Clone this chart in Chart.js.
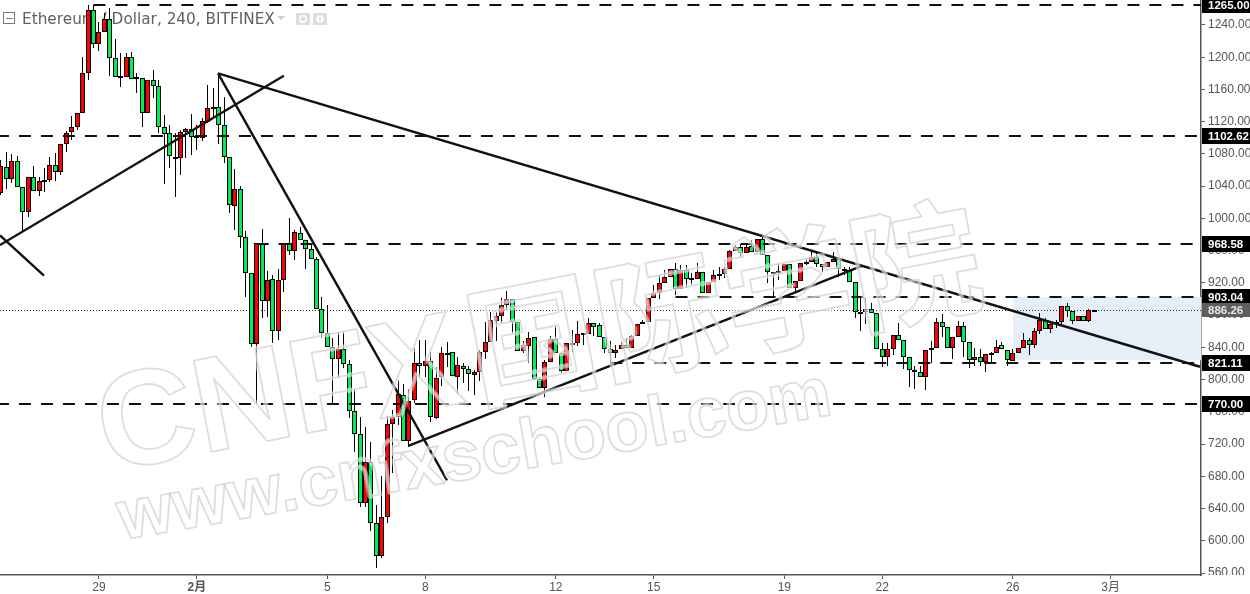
<!DOCTYPE html>
<html>
<head>
<meta charset="utf-8">
<style>html,body{margin:0;padding:0;background:#fff}canvas{display:block}</style>
<script src="https://cdn.jsdelivr.net/npm/chart.js@4/dist/chart.umd.min.js"></script>
</head>
<body>
<canvas id="c" width="1250" height="594"></canvas>
<script>
const opens = [1032,1064,1049,1071,1039,1008,1051,1034,1046,1048,
1066,1058,1092,1107,1113,1131,1180,1259,1216,1231,
1247,1199,1175,1175,1200,1173,1174,1131,1172,1164,
1113,1106,1076,1075,1107,1111,1101,1100,1120,1136,
1138,1116,1076,1015,1036,977,932,844,970,898,
925,860,924,970,960,982,973,962,950,888,
858,840,826,838,819,761,733,647,698,622,
581,630,745,754,781,724,775,821,817,823,
752,803,832,834,803,817,813,806,809,834,
847,873,879,893,900,871,836,842,853,801,
790,822,850,833,811,845,845,857,857,870,
868,853,838,833,838,843,839,854,869,871,
901,907,920,927,937,912,936,926,925,933,
907,921,930,931,937,960,965,957,966,958,
974,955,933,932,935,943,914,922,945,946,
952,943,940,946,950,937,936,921,884,884,
888,883,838,828,838,855,849,828,812,809,
803,837,839,871,865,839,853,866,847,824,
828,822,832,833,843,837,823,833,839,849,
843,860,874,863,869,871,891,885,873,879,
873,886];
const highs = [1072,1082,1080,1077,1039,1051,1065,1051,1063,1076,
1081,1092,1108,1127,1131,1200,1265,1265,1244,1255,
1261,1223,1205,1205,1206,1180,1174,1172,1184,1172,
1128,1116,1106,1110,1112,1130,1116,1125,1166,1162,
1180,1151,1076,1061,1040,984,932,970,987,935,
930,937,970,1001,986,989,973,970,952,902,
893,852,859,859,824,788,754,741,723,644,
680,755,762,800,795,788,839,849,849,834,
816,840,847,834,828,821,817,812,837,871,
884,884,901,910,900,871,848,859,853,803,
824,854,866,833,845,862,873,858,876,870,
870,853,848,843,847,852,855,869,874,901,
917,930,936,937,945,942,942,932,945,933,
921,936,940,940,961,967,968,970,973,974,
978,955,933,945,943,943,922,945,950,961,
958,943,946,958,952,940,940,921,902,901,
895,883,845,845,855,870,849,828,817,817,
837,848,876,881,865,853,873,871,847,839,
838,832,834,849,847,837,838,839,858,852,
864,883,876,873,874,891,895,885,879,879,
888,887];
const lows = [1029,1036,1044,1039,983,1002,1034,1028,1033,1045,
1046,1054,1082,1097,1110,1131,1172,1211,1208,1231,
1177,1175,1163,1175,1173,1156,1113,1131,1149,1106,
1043,1063,1027,1054,1075,1079,1085,1096,1118,1125,
1092,1069,1007,986,963,902,840,770,876,878,
845,849,909,955,948,973,937,950,888,852,
840,771,802,814,752,710,642,642,612,566,
579,622,684,744,724,716,771,803,803,747,
751,792,816,804,782,796,786,781,798,826,
847,848,870,886,858,836,833,821,800,790,
778,822,833,808,811,834,842,843,857,854,
853,833,821,827,838,839,839,854,869,871,
901,900,920,927,905,912,914,917,925,907,
907,921,924,926,937,960,952,957,958,958,
955,920,904,924,935,914,907,922,942,946,
940,933,940,946,927,930,921,876,860,869,
883,838,816,817,831,849,813,791,788,803,
787,821,839,853,839,826,853,828,814,817,
817,809,822,833,838,817,823,833,839,831,
839,857,863,858,864,869,878,869,873,873,
871,885];
const closes = [1065,1049,1071,1039,1008,1051,1034,1046,1048,1066,
1058,1092,1106,1113,1131,1180,1259,1216,1231,1247,
1199,1175,1177,1200,1173,1175,1131,1172,1164,1113,
1105,1077,1074,1107,1111,1101,1102,1121,1137,1138,
1116,1076,1017,1036,977,932,844,970,898,924,
860,924,970,960,983,973,962,950,888,858,
840,826,838,819,761,733,647,698,622,581,
630,745,754,782,724,773,821,817,823,754,
802,833,833,804,818,813,807,809,834,847,
874,879,893,900,871,836,843,852,801,790,
822,850,833,811,845,846,857,858,870,865,
853,838,833,837,843,839,854,869,871,901,
907,920,927,937,912,936,925,925,933,907,
921,930,931,937,960,965,957,965,958,974,
955,933,932,935,943,914,922,945,946,952,
943,940,946,950,937,936,921,884,883,888,
883,838,828,838,855,849,828,812,811,803,
837,839,871,865,839,853,866,847,824,828,
822,832,833,840,838,824,833,839,849,843,
860,874,863,869,871,891,885,873,879,873,
886,886.26];

const levelValues = [1265, 1102.62, 968.58, 903.04, 821.11, 770];
const levelStarts = [17, -0.74, 47, 124, 112, -0.74];
const lastPrice = 886.26;
const trendA = [{x:-0.18,y:967},{x:52,y:1177}];
const trendB = [{x:-0.18,y:979},{x:7.9,y:929}];
const trendC = [{x:39.9,y:1180},{x:82,y:675}];
const trendD = [{x:39.9,y:1180},{x:220.4,y:816}];
const trendE = [{x:75,y:718},{x:158.3,y:941}];
const zoneStart = 186, zoneTop = 903.04, zoneBottom = 824;
const xMin = -0.18, xMax = 220.6;
const yMin = 557.6, yMax = 1271;
const yTicks = [560,600,640,680,720,760,800,840,880,920,960,1000,1040,1080,1120,1160,1200,1240];
const xTickPos = [18,36,60,78,102,120,144,162,186,204];
const xTickLabels = ['29','2月','5','8','12','15','19','22','26','3月'];
const titleText = 'Ethereum / Dollar, 240, BITFINEX';
const mark1 = 'CNFX', mark2 = '国际学院', mark3 = 'www.cnfxschool.com';

const RED = '#ff0000', GREEN = '#00ee55', INK = '#111111', AXIS = '#555555';
const SANS = '"Liberation Sans","Noto Sans CJK SC",sans-serif';
const idx = opens.map((_, i) => i);

function lineSet(data, extra) {
  return Object.assign({type:'line', data, borderColor:INK, borderWidth:2.4, pointRadius:0, fill:false, tension:0, order:1}, extra);
}

const snapPlugin = {
  id:'snap',
  afterDatasetsUpdate(chart) {
    chart.data.datasets.forEach((ds, k) => {
      const meta = chart.getDatasetMeta(k);
      if (ds.type === 'bar') {
        meta.data.forEach(el => {
          el.x = Math.round(el.x - 0.5) + 0.5;
          el.y = Math.round(el.y);
          el.base = Math.round(el.base);
          if (ds.snapMin && Math.abs(el.base - el.y) < 2) el.base = el.y + 2;
        });
      } else if (ds.snapY !== undefined) {
        meta.data.forEach(p => { p.y = Math.round(p.y) + ds.snapY; });
      }
    });
  }
};

const headerPlugin = {
  id:'header',
  beforeDatasetsDraw(chart) {
    const c = chart.ctx;
    c.save();
    c.fillStyle = '#606060';
    c.font = '15.3px "DejaVu Sans",sans-serif';
    c.textBaseline = 'alphabetic';
    c.textAlign = 'left';
    c.fillText(titleText, 22, 24);
    c.strokeStyle = '#777777'; c.lineWidth = 1;
    c.strokeRect(3.5, 12.5, 11, 11);
    c.beginPath(); c.moveTo(6, 18.5); c.lineTo(13, 18.5); c.stroke();
    c.fillStyle = '#cfcfcf';
    c.beginPath(); c.moveTo(277, 16); c.lineTo(285, 16); c.lineTo(281, 20); c.closePath(); c.fill();
    c.fillStyle = '#dddddd';
    c.fillRect(296, 13, 14, 12); c.fillRect(313, 13, 14, 12);
    c.strokeStyle = '#ffffff'; c.lineWidth = 1.5;
    c.beginPath(); c.arc(303, 19, 3.2, 0, 7); c.stroke();
    c.lineWidth = 2.5;
    c.beginPath(); c.arc(320, 19, 2.6, 0, 7); c.stroke();
    c.restore();
  }
};

const watermarkPlugin = {
  id:'watermark',
  afterDatasetsDraw(chart) {
    const c = chart.ctx;
    const outline = (t, x, y) => {
      c.lineWidth = 5; c.strokeStyle = 'rgba(255,255,255,0.5)'; c.strokeText(t, x, y);
      c.lineWidth = 1.8; c.strokeStyle = 'rgba(205,205,205,0.65)'; c.strokeText(t, x, y);
    };
    c.save();
    c.beginPath(); c.rect(0, 0, 1201, 575); c.clip();
    c.lineJoin = 'round';
    c.textAlign = 'left'; c.textBaseline = 'alphabetic';
    c.save();
    c.translate(107, 472); c.rotate(-11 * Math.PI / 180);
    c.font = 'bold 135px "Liberation Sans",sans-serif';
    outline(mark1, 0, 0);
    const w = c.measureText(mark1).width;
    c.font = 'bold 130px "Noto Sans CJK SC",sans-serif';
    outline(mark2, w + 10, 0);
    c.restore();
    c.save();
    c.translate(122, 540); c.rotate(-10 * Math.PI / 180);
    c.font = 'bold 71px "Liberation Sans",sans-serif';
    outline(mark3, 0, 0);
    c.restore();
    c.restore();
  }
};

const badgePlugin = {
  id:'badges',
  afterDraw(chart) {
    const c = chart.ctx, ys = chart.scales.y;
    c.save();
    c.fillStyle = '#ffffff';
    c.fillRect(1202, 575, 48, 19);
    c.textAlign = 'left'; c.textBaseline = 'middle';
    c.font = 'bold 11.5px ' + SANS;
    levelValues.forEach(v => {
      const y = Math.round(ys.getPixelForValue(v));
      c.fillStyle = '#000000';
      c.fillRect(1202, y - 8, 48, 16);
      c.fillStyle = '#ffffff';
      c.fillText(v.toFixed(2), 1208, y + 0.5);
    });
    const y = Math.round(ys.getPixelForValue(lastPrice));
    c.fillStyle = '#5e5e5e';
    c.fillRect(1202, y - 7, 48, 14);
    c.fillStyle = '#e6e6e6';
    c.fillText(lastPrice.toFixed(2), 1208, y + 0.5);
    c.restore();
  }
};

new Chart(document.getElementById('c'), {
  data: {
    datasets: [
      lineSet([{x:zoneStart,y:zoneTop},{x:xMax,y:zoneTop}], {
        borderWidth:0, fill:{value:zoneBottom}, backgroundColor:'#e6eef7', order:9, snapY:0
      }),
      lineSet([{x:xMin,y:lastPrice},{x:xMax,y:lastPrice}], {borderWidth:1, borderColor:'#333333', borderDash:[1,2], order:8, snapY:0.5}),
      {type:'bar', data:idx.map(i => ({x:i, y:[lows[i], highs[i]]})), backgroundColor:'#000000', borderWidth:0,
       barThickness:1, grouped:false, inflateAmount:0, order:6},
      {type:'bar', data:idx.map(i => ({x:i, y:[opens[i], closes[i]]})),
       backgroundColor:idx.map(i => closes[i] >= opens[i] ? RED : GREEN),
       borderColor:'#000000', borderWidth:1, borderSkipped:false, barThickness:5, grouped:false, inflateAmount:0, order:5, snapMin:true},
      ...levelValues.map((v, k) => lineSet([{x:levelStarts[k],y:v},{x:xMax,y:v}], {borderWidth:2, borderDash:[12,10], order:2, snapY:0})),
      lineSet(trendA), lineSet(trendB), lineSet(trendC), lineSet(trendD), lineSet(trendE)
    ]
  },
  options: {
    responsive:false, animation:false, events:[],
    layout:{padding:0},
    plugins:{legend:{display:false}, title:{display:false}, tooltip:{enabled:false}},
    scales:{
      x:{
        type:'linear', position:'bottom', min:xMin, max:xMax, offset:false,
        grid:{drawOnChartArea:false, drawTicks:true, tickLength:4, color:AXIS, offset:false},
        border:{color:AXIS, width:1.5},
        afterBuildTicks(s){ s.ticks = xTickPos.map(v => ({value:v})); },
        afterFit(s){ s.height = 19; s.paddingLeft = 0; s.paddingRight = 0; },
        ticks:{
          autoSkip:false, maxRotation:0, minRotation:0, padding:1, color:AXIS,
          font(ctx){ return {family:SANS, size:12, weight: ctx.tick && ctx.tick.value === 36 ? 'bold' : 'normal'}; },
          callback(v){ return xTickLabels[xTickPos.indexOf(v)]; }
        }
      },
      y:{
        type:'linear', position:'right', min:yMin, max:yMax,
        grid:{drawOnChartArea:false, drawTicks:true, tickLength:4, color:AXIS},
        border:{color:AXIS, width:1.5},
        afterBuildTicks(s){ s.ticks = yTicks.map(v => ({value:v})); },
        afterFit(s){ s.width = 49; s.paddingTop = 0; s.paddingBottom = 0; },
        ticks:{
          autoSkip:false, padding:3, color:AXIS, font:{family:SANS, size:12},
          callback(v){ return v.toFixed(2); }
        }
      }
    }
  },
  plugins:[snapPlugin, headerPlugin, watermarkPlugin, badgePlugin]
});
</script>
</body>
</html>
